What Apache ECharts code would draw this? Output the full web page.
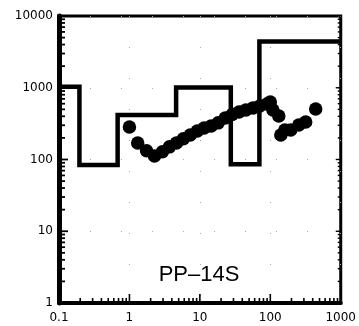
<!DOCTYPE html>
<html><head><meta charset="utf-8">
<script src="https://cdn.jsdelivr.net/npm/echarts@6/dist/echarts.min.js"></script>
<style>html,body{margin:0;padding:0;background:#fff}#c{width:359px;height:326px}</style>
</head><body><div id="c"></div><script>
const xTickLabels = ['0.1', '1', '10', '100', '1000'];
const yTickLabels = ['1', '10', '100', '1000', '10000'];
const stepEdges = [0.1, 0.195, 0.68, 4.6, 27.5, 70, 1000];
const stepLevels = [1030, 84, 418, 1010, 86, 4400];
const pointX = [1.0, 1.31, 1.75, 2.27, 2.94, 3.7, 4.65, 5.83, 7.31, 9.2, 11.5, 14.5, 18.2, 22.9, 28.7, 36, 45, 57, 71, 90, 100, 109, 132, 141, 161, 195, 254, 318, 441];
const pointY = [284, 170, 132, 112, 128, 150, 170, 194, 220, 250, 275, 294, 324, 380, 425, 460, 491, 524, 558, 595, 634, 491, 405, 220, 258, 258, 303, 334, 507];
const panelLabel = 'PP–14S';

const stepData = stepLevels.map((v, i) => [stepEdges[i], v]);
stepData.push([stepEdges[stepEdges.length - 1], stepLevels[stepLevels.length - 1]]);
const points = pointX.map((x, i) => [x, pointY[i]]);

function tickList(lo, hi) {
  const t = [];
  for (let e = Math.round(Math.log10(lo)); e <= Math.round(Math.log10(hi)); e++) {
    const d = Math.pow(10, e);
    t.push([d, 1]);
    if (e < Math.round(Math.log10(hi))) for (let k = 2; k < 10; k++) t.push([d * k, 0]);
  }
  return t;
}
const xTicks = tickList(0.1, 1000);
const yTicks = tickList(1, 10000);

const chart = echarts.init(document.getElementById('c'), null, {renderer: 'canvas'});
const font = 'DejaVu Sans';
chart.setOption({
  animation: false,
  grid: {left: 59, right: 17, top: 16, bottom: 23, show: true, borderColor: '#000', borderWidth: 3, backgroundColor: 'transparent'},
  xAxis: {
    type: 'log', logBase: 10, min: 0.1, max: 1000,
    axisLine: {show: true, lineStyle: {color: '#000', width: 4}},
    axisTick: {show: false},
    axisLabel: {color: '#000', fontSize: 12, fontFamily: font, margin: 9,
      formatter: v => xTickLabels[Math.round(Math.log10(v)) + 1]},
    splitLine: {show: true, lineStyle: {color: '#aaa', width: 1, type: [1, 30]}}
  },
  yAxis: {
    type: 'log', logBase: 10, min: 1, max: 10000,
    axisLine: {show: true, lineStyle: {color: '#000', width: 5}},
    axisTick: {show: false},
    axisLabel: {color: '#000', fontSize: 12, fontFamily: font, margin: 6,
      formatter: v => yTickLabels[Math.round(Math.log10(v))]},
    splitLine: {show: true, lineStyle: {color: '#aaa', width: 1, type: [1, 30]}}
  },
  series: [
    {
      type: 'custom', silent: true, clip: false, z: 5,
      data: xTicks.map(t => [t[0], 1, t[1]]),
      renderItem: (params, api) => {
        const p = api.coord([api.value(0), 1]);
        const len = api.value(2) ? 9 : 5;
        return {type: 'line', shape: {x1: p[0], y1: p[1], x2: p[0], y2: p[1] - len}, style: {stroke: '#000', lineWidth: 1.6}};
      }
    },
    {
      type: 'custom', silent: true, clip: false, z: 5,
      data: yTicks.map(t => [0.1, t[0], t[1]]),
      renderItem: (params, api) => {
        const p = api.coord([0.1, api.value(1)]);
        const len = api.value(2) ? 9 : 6;
        return {type: 'line', shape: {x1: p[0], y1: p[1], x2: p[0] + len, y2: p[1]}, style: {stroke: '#000', lineWidth: 1.8}};
      }
    },
    {
      type: 'custom', silent: true, clip: false, z: 5,
      data: yTicks.map(t => [1000, t[0], t[1]]),
      renderItem: (params, api) => {
        const p = api.coord([1000, api.value(1)]);
        const len = api.value(2) ? 5 : 3;
        return {type: 'line', shape: {x1: p[0], y1: p[1], x2: p[0] - len, y2: p[1]}, style: {stroke: '#000', lineWidth: 1.4}};
      }
    },
    {
      type: 'line', step: 'end', data: stepData, symbol: 'none', z: 3,
      lineStyle: {color: '#000', width: 4.5, join: 'miter'}
    },
    {
      type: 'scatter', data: points, symbol: 'circle', symbolSize: 13.5, z: 4,
      itemStyle: {color: '#000', opacity: 1}
    }
  ],
  graphic: [{
    type: 'text', x: 199, y: 275,
    style: {text: panelLabel, font: '22px "Liberation Sans"', fill: '#000', textAlign: 'center', textVerticalAlign: 'middle'}
  }]
});
</script></body></html>
